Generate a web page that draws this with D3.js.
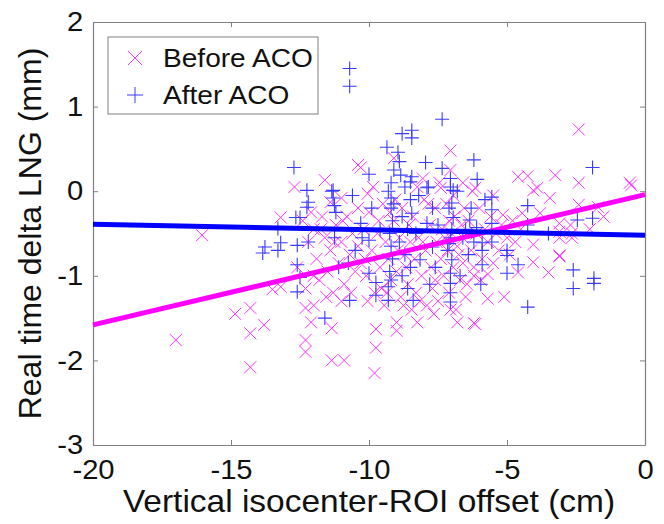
<!DOCTYPE html>
<html>
<head>
<meta charset="utf-8">
<script src="https://cdn.jsdelivr.net/npm/d3@7"></script>
<style>
  html, body { margin: 0; padding: 0; background: #fff; }
  svg text { font-family: Arial, "Liberation Sans", sans-serif; fill: #111; }
</style>
</head>
<body>
<div id="chart"></div>
<script>
// axis setup
const xTicks = [-20, -15, -10, -5, 0];
const yTicks = [-3, -2, -1, 0, 1, 2];
const seriesNames = ["Before ACO", "After ACO"];

// Before ACO (x marker), [offset cm, delta mm]
const beforeACO = [
  [-17.0,-1.76],[-16.05,-0.52],[-14.85,-1.45],[-14.3,-1.38],[-13.8,-1.58],[-14.3,-1.68],[-14.3,-2.08],[-13.5,-1.16],[-13.2,-1.13],
  [-12.3,-1.76],[-12.3,-1.9],[-12.3,-1.38],[-12.1,-1.55],[-11.35,-1.62],[-11.35,-2.0],[-10.9,-2.0],[-9.75,-1.63],[-9.75,-1.85],
  [-9.8,-2.15],[-9.0,-1.55],[-9.0,-1.65],[-8.25,-1.55],[-6.8,-1.55],[-6.2,-1.56],[-12.0,-1.35],
  [-5.7,-1.27],[-5.1,-1.25],[-6.15,-1.57],[-5.7,-0.98],[-4.6,-0.96],[-4.05,-0.84],[-3.5,-0.96],[-3.1,-0.77],[-4.05,-0.63],
  [-3.1,-0.55],[-2.65,-0.55],[-6.2,-0.9],
  [-2.4,0.73],[-4.6,0.17],[-4.25,0.18],[-3.25,0.19],[-2.4,0.1],[-3.9,0.04],[-4.05,0.01],[-3.45,-0.08],[-2.4,-0.16],[-1.7,-0.19],
  [-0.55,0.1],[-0.5,0.07],[-4.45,-0.26],[-3.8,-0.26],[-5.5,-0.05],[-6.15,0.04],[-5.15,-0.28],[-3.1,-0.38],[-2.7,-0.4],[-3.1,-0.48],
  [-2.65,-0.5],[-3.1,-0.76],[-2.0,-0.45],[-1.5,-0.3],
  [-7.05,0.48],[-10.4,0.31],[-10.3,0.28],[-11.6,0.13],[-12.7,0.05],[-7.05,0.25],[-8.05,0.15],[-6.6,0.1],[-9.1,0.39],[-11.0,-0.08],
  [-10.05,-0.03],[-11.4,-0.13],[-10.4,-0.2],[-13.2,-0.31],[-7.4,0.04],[-6.25,0.0],
  [-12.4,-0.35],[-12.2,-0.6],[-12.0,-0.45],[-11.9,-0.8],[-11.8,-1.05],[-11.7,-0.3],[-11.6,-0.55],[-11.5,-0.95],[-11.4,-0.7],
  [-11.3,-1.2],[-11.2,-0.4],[-11.1,-0.85],[-11.0,-0.6],[-10.9,-1.1],[-10.8,-0.3],[-10.7,-0.75],[-10.6,-0.5],[-10.5,-0.95],
  [-12.6,-0.9],[-12.3,-1.15],[-12.0,-1.0],[-11.75,-0.45],[-11.25,-0.6],[-10.95,-0.35],[-10.65,-1.2],[-11.55,-1.25],[-12.1,-0.25],
  [-11.0,-1.3],[-10.4,-0.65],[-10.3,-0.85],
  [-10.2,-0.45],[-10.1,-1.0],[-10.0,-0.25],[-9.9,-0.7],[-9.8,-1.2],[-9.7,-0.5],[-9.6,-0.9],[-9.5,-0.15],[-9.45,-1.35],[-9.4,-0.6],
  [-9.3,-0.8],[-9.2,-1.05],[-9.1,-0.35],[-9.0,-0.95],[-8.9,-0.55],[-8.85,-1.25],[-8.8,-0.2],[-8.7,-0.75],[-8.6,-1.1],[-8.55,-0.4],
  [-9.85,0.05],[-9.55,-1.15],[-9.25,-0.25],[-8.95,-0.7],[-8.65,-0.9],[-10.15,-0.8],[-9.65,-0.35],[-9.35,-1.2],[-9.05,-0.1],
  [-8.75,-1.35],[-8.5,-0.6],[-10.05,-1.3],
  [-8.4,-0.3],[-8.35,-0.8],[-8.3,-1.2],[-8.2,-0.55],[-8.1,-1.0],[-8.0,-0.1],[-7.95,-0.7],[-7.9,-1.35],[-7.8,-0.4],[-7.75,-0.9],
  [-7.7,-1.15],[-7.6,-0.2],[-7.55,-0.6],[-7.5,-1.3],[-7.4,-0.8],[-7.35,-0.45],[-7.3,-1.0],[-7.2,-0.15],[-7.15,-0.7],[-7.1,-1.2],
  [-7.0,-0.5],[-6.95,-0.9],[-6.9,-0.3],[-6.85,-1.4],[-6.8,-0.65],[-6.7,-1.05],[-6.65,-0.4],[-6.6,-0.85],[-6.55,-0.2],[-6.5,-1.25],
  [-8.25,0.05],[-7.85,-0.15],[-7.65,-1.45],[-7.25,-0.55],[-7.05,-1.4],[-6.75,-0.75],[-8.45,-1.4],[-8.05,-0.6],[-7.45,0.1],
  [-6.95,-0.05],[-8.15,-1.3],[-7.6,-1.05],[-7.1,-0.35],[-6.6,-0.55],
  [-6.4,-0.35],[-6.3,-0.7],[-6.2,-1.0],[-6.1,-0.5],[-6.0,-0.2],[-5.9,-0.8],[-5.8,-0.45],[-5.7,-0.6],[-5.6,-0.3],[-5.5,-0.85],
  [-5.4,-0.5],[-5.3,-0.7],[-5.2,-0.4],[-5.0,-0.55],[-4.9,-0.75],[-4.8,-0.35],[-4.7,-0.6],[-6.45,-1.1],[-5.95,-1.05],[-4.5,-0.45]
];

// After ACO (+ marker)
const afterACO = [
  [-10.7,1.45],[-10.7,1.24],[-7.35,0.85],[-8.45,0.72],[-8.8,0.68],[-8.45,0.63],[-9.35,0.52],[-8.95,0.46],[-12.72,0.28],[-7.95,0.34],
  [-7.35,0.27],[-6.2,0.37],[-6.08,0.14],[-9.1,0.25],[-8.85,0.19],[-8.5,0.11],[-12.25,0.01],[-11.3,0.01],[-10.6,-0.05],[-12.2,-0.13],
  [-11.3,-0.08],[-7.9,0.04],[-6.95,0.01],[-8.5,-0.1],[-9.2,-0.08],[-9.2,-0.2],[-12.5,-0.31],[-11.2,-0.25],[-10.3,-0.38],
  [-12.65,-0.31],[-13.3,-0.44],[-13.77,-0.66],[-13.85,-0.73],[-13.2,-0.61],[-13.3,-0.7],[-12.6,-0.64],[-12.6,-0.87],[-12.5,-1.02],
  [-12.6,-1.19],[-12.25,-0.19],[-11.35,0.0],[-11.25,-0.17],[-10.25,-0.55],[-11.25,-0.55],[-12.2,-0.6],[-10.0,-0.58],
  [-11.1,-0.9],[-10.75,-0.85],[-10.0,-0.97],[-9.75,-1.08],[-10.7,-1.29],[-11.6,-1.5],[-9.75,-1.23],[-9.3,-1.13],[-9.3,-1.29],
  [-8.45,0.17],[-7.85,0.05],[-7.05,0.05],[-7.0,-0.14],[-8.45,-0.26],[-7.9,-0.38],[-6.95,-0.31],[-6.35,-0.34],[-6.1,-0.43],
  [-5.9,-0.61],[-5.9,-0.7],[-7.7,-0.66],[-8.15,-0.81],[-7.6,-0.9],[-7.15,-0.7],[-7.0,-0.81],[-7.05,-0.97],[-7.05,-1.09],
  [-7.05,-1.2],[-7.05,-1.31],[-8.4,-1.29],[-5.8,-0.1],
  [-5.55,-0.07],[-5.55,-0.22],[-5.55,-0.38],[-5.55,-0.6],[-4.25,-0.17],[-4.25,-0.4],[-3.5,-0.5],[-5.0,-0.7],[-5.0,-0.76],
  [-4.6,-0.87],[-5.0,-0.97],[-2.45,-0.34],[-2.6,-0.93],[-2.6,-1.15],[-4.25,-1.37],
  [-1.85,-1.03],[-1.85,-1.09],[-5.9,-0.87],[-1.9,0.28],[-1.9,-0.32],
  [-9.2,0.1],[-9.15,-0.35],[-9.25,-0.5],[-9.2,-0.65],[-9.15,-0.8],[-9.25,-0.95],[-9.2,-1.05],[-9.1,-0.15],[-9.3,0.0],
  [-8.7,0.05],[-8.8,-0.3],[-8.6,-0.45],[-8.9,-0.6],[-8.7,-0.75],[-8.5,-0.9],[-8.8,-1.0],[-8.6,-1.15],[-8.9,0.35],
  [-7.05,0.15],[-7.1,-0.2],[-7.0,-0.45],[-7.05,-0.55],[-7.1,-0.62],
  [-10.0,0.2],[-9.9,-0.2],[-10.5,-0.7],[-9.6,-0.45],[-7.7,-0.2],[-7.5,-0.4],[-7.8,-1.1],[-6.6,-0.55],[-6.4,-0.75],[-6.7,-1.0],
  [-5.95,-1.1],[-6.3,-0.2],[-6.8,0.0],[-8.2,-0.05],[-8.3,-0.5],[-6.5,-0.45],[-6.2,-0.6]
];

// fitted lines, read at the axis ends
const fitBefore = [[-20, -1.58], [0, -0.04]];
const fitAfter = [[-20, -0.39], [0, -0.52]];

const W = 664, H = 524;
const margin = {left: 93, right: 19, top: 22, bottom: 79};
const stretch = 1.08; // text in the original is a little wider than Arial

const svg = d3.select("#chart").append("svg")
    .attr("width", W)
    .attr("height", H);

const x = d3.scaleLinear().domain([-20, 0]).range([margin.left, W - margin.right]);
const y = d3.scaleLinear().domain([-3, 2]).range([H - margin.bottom, margin.top]);

const frameColor = "#808080";
const tickLen = 5;

// axes (matlab style, ticks inward, box on)
const gx = svg.append("g")
    .attr("transform", `translate(0,${y(-3)})`)
    .call(d3.axisBottom(x).tickValues(xTicks).tickSizeInner(-tickLen).tickSizeOuter(0).tickPadding(15));
const gy = svg.append("g")
    .attr("transform", `translate(${x(-20)},0)`)
    .call(d3.axisLeft(y).tickValues(yTicks).tickSizeInner(-tickLen).tickSizeOuter(0).tickPadding(9));
const gxt = svg.append("g")
    .attr("transform", `translate(0,${y(2)})`)
    .call(d3.axisTop(x).tickValues(xTicks).tickSizeInner(-tickLen).tickSizeOuter(0).tickFormat(""));
const gyr = svg.append("g")
    .attr("transform", `translate(${x(0)},0)`)
    .call(d3.axisRight(y).tickValues(yTicks).tickSizeInner(-tickLen).tickSizeOuter(0).tickFormat(""));

[gx, gy, gxt, gyr].forEach(g => {
    g.select(".domain").attr("stroke", frameColor).attr("stroke-width", 1.2);
    g.selectAll(".tick line").attr("stroke", frameColor);
});
// matlab shows a plain hyphen as minus
[gx, gy].forEach(g => {
    g.selectAll(".tick text")
        .text(d => String(d))
        .attr("font-size", 27)
        .attr("fill", "#222")
        .attr("transform", `scale(${stretch},1)`);
});

// scatter
const plot = svg.append("g");
const ms = 6;

plot.selectAll("path.before")
    .data(beforeACO)
    .join("path")
    .attr("class", "before")
    .attr("d", d => {
        const px = x(d[0]), py = y(d[1]);
        return `M${px - ms},${py - ms}L${px + ms},${py + ms}M${px - ms},${py + ms}L${px + ms},${py - ms}`;
    })
    .attr("fill", "none")
    .attr("stroke", "#ff33ff")
    .attr("stroke-width", 1);

plot.selectAll("path.after")
    .data(afterACO)
    .join("path")
    .attr("class", "after")
    .attr("d", d => {
        const px = x(d[0]), py = y(d[1]);
        return `M${px - ms - 1},${py}L${px + ms + 1},${py}M${px},${py - ms - 1}L${px},${py + ms + 1}`;
    })
    .attr("fill", "none")
    .attr("stroke", "#3a3aff")
    .attr("stroke-width", 1.1);

// fit lines
const line = d3.line().x(d => x(d[0])).y(d => y(d[1]));
svg.append("path").datum(fitBefore).attr("d", line)
    .attr("stroke", "#ff00ff").attr("stroke-width", 5).attr("fill", "none");
svg.append("path").datum(fitAfter).attr("d", line)
    .attr("stroke", "#0000ff").attr("stroke-width", 5).attr("fill", "none");

// axis labels
const cxPlot = (x(-20) + x(0)) / 2;
svg.append("text")
    .attr("transform", `translate(${cxPlot},512) scale(${stretch},1)`)
    .attr("text-anchor", "middle")
    .attr("font-size", 31)
    .text("Vertical isocenter-ROI offset (cm)");

svg.append("text")
    .attr("transform", `translate(41,${(y(2) + y(-3)) / 2}) rotate(-90)`)
    .attr("text-anchor", "middle")
    .attr("font-size", 32)
    .text("Real time delta LNG (mm)");

// legend
const leg = svg.append("g").attr("transform", "translate(108,37)");
leg.append("rect")
    .attr("width", 210).attr("height", 77)
    .attr("fill", "#fff").attr("stroke", frameColor).attr("stroke-width", 1);

seriesNames.forEach((name, i) => {
    const cy = 21 + i * 37;
    const cx = 27;
    const s = 7;
    leg.append("path")
        .attr("d", i === 0
            ? `M${cx - s},${cy - s}L${cx + s},${cy + s}M${cx - s},${cy + s}L${cx + s},${cy - s}`
            : `M${cx - s - 1},${cy}L${cx + s + 1},${cy}M${cx},${cy - s - 1}L${cx},${cy + s + 1}`)
        .attr("fill", "none")
        .attr("stroke", i === 0 ? "#ff33ff" : "#3a3aff")
        .attr("stroke-width", 1);
    leg.append("text")
        .attr("transform", `translate(55,${cy + 9}) scale(${stretch},1)`)
        .attr("font-size", 26)
        .text(name);
});
</script>
</body>
</html>
